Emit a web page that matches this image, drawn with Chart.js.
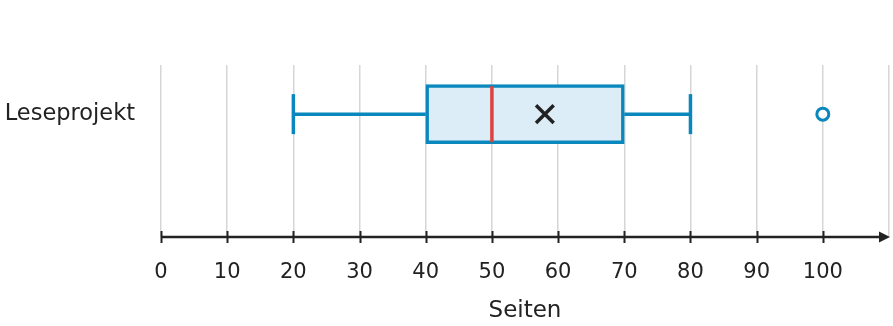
<!DOCTYPE html>
<html>
<head>
<meta charset="utf-8">
<script src="https://cdn.jsdelivr.net/npm/chart.js@4"></script>
<style>
  html, body { margin: 0; padding: 0; background: #fff; }
  #wrap { width: 893px; height: 326px; }
</style>
</head>
<body>
<div id="wrap"><canvas id="chart"></canvas></div>
<script>
// box plot values (Seiten)
const categories = ["Leseprojekt"];
const whiskerLow = [20];
const quartile1 = [40];
const median = [50];
const mean = [58];
const quartile3 = [70];
const whiskerHigh = [80];
const outliers = [[100]];
const axisMin = 0;
const axisMax = 110;
const axisStep = 10;
const axisTitle = "Seiten";

const BLUE = "#0a87bd";
const DARK = "#222222";

Chart.defaults.font.family = "'DejaVu Sans', sans-serif";
Chart.defaults.color = DARK;

const rows = categories.map((c, i) => i);

// tick marks crossing the axis line + arrow head
const axisPlugin = {
  id: "axisArrow",
  afterDraw(chart) {
    const { ctx, chartArea } = chart;
    const xs = chart.scales.x;
    const y = chartArea.bottom;
    ctx.save();
    ctx.strokeStyle = DARK;
    ctx.lineWidth = 2;
    for (let v = axisMin; v < axisMax; v += axisStep) {
      const px = Math.round(xs.getPixelForValue(v)) + 0.5;
      ctx.beginPath();
      ctx.moveTo(px, y - 6);
      ctx.lineTo(px, y + 6);
      ctx.stroke();
    }
    ctx.lineWidth = 2.5;
    ctx.beginPath();
    ctx.moveTo(xs.getPixelForValue(axisMin), y);
    ctx.lineTo(chartArea.right - 4, y);
    ctx.stroke();
    ctx.fillStyle = DARK;
    ctx.beginPath();
    ctx.moveTo(chartArea.right + 1, y);
    ctx.lineTo(chartArea.right - 10, y - 5.5);
    ctx.lineTo(chartArea.right - 10, y + 5.5);
    ctx.closePath();
    ctx.fill();
    ctx.restore();
  }
};

const whiskerData = rows.map(i => [
  { x: whiskerLow[i], y: i }, { x: quartile1[i], y: i }, { x: null, y: i },
  { x: quartile3[i], y: i }, { x: whiskerHigh[i], y: i }
]).flat();

new Chart(document.getElementById("chart"), {
  type: "bar",
  data: {
    datasets: [
      {
        type: "line",
        data: whiskerData,
        borderColor: BLUE,
        borderWidth: 3.5,
        pointRadius: 0,
        spanGaps: false,
        order: 5,
      },
      {
        type: "scatter",
        data: rows.map(i => ({ x: whiskerLow[i], y: i }))
          .concat(rows.map(i => ({ x: whiskerHigh[i], y: i }))),
        pointStyle: "line",
        rotation: 90,
        radius: 20,
        borderColor: BLUE,
        borderWidth: 3.5,
        order: 4,
      },
      {
        data: rows.map(i => ({ x: [quartile1[i], quartile3[i]], y: i })),
        backgroundColor: "#dcedf8",
        borderColor: BLUE,
        borderWidth: 3.5,
        borderSkipped: false,
        barThickness: 59,
        order: 3,
      },
      {
        type: "scatter",
        data: rows.map(i => ({ x: median[i], y: i })),
        pointStyle: "line",
        rotation: 90,
        radius: 28,
        borderColor: "#d9453f",
        borderWidth: 3.5,
        order: 2,
      },
      {
        type: "scatter",
        data: rows.map(i => ({ x: mean[i], y: i })),
        pointStyle: "crossRot",
        radius: 12.5,
        borderColor: DARK,
        borderWidth: 3.5,
        order: 1,
      },
      {
        type: "scatter",
        data: rows.map(i => outliers[i].map(v => ({ x: v, y: i }))).flat(),
        pointStyle: "circle",
        radius: 6,
        backgroundColor: "#ffffff",
        borderColor: BLUE,
        borderWidth: 3,
        order: 0,
      },
    ],
  },
  options: {
    indexAxis: "y",
    responsive: true,
    maintainAspectRatio: false,
    animation: false,
    events: [],
    layout: { autoPadding: false, padding: { top: 65, right: 4, left: 0, bottom: 0 } },
    plugins: {
      legend: { display: false },
      tooltip: { enabled: false },
    },
    scales: {
      x: {
        type: "linear",
        min: axisMin,
        max: axisMax,
        afterFit: (s) => {
          s.height = 89;
          s.paddingLeft = 0;
          s.paddingRight = 0;
        },
        afterBuildTicks: (s) => {
          const t = [];
          for (let v = axisMin; v <= axisMax; v += axisStep) t.push({ value: v });
          s.ticks = t;
        },
        ticks: {
          callback: (v) => (v < axisMax ? String(v) : ""),
          font: { size: 21 },
          color: DARK,
          padding: 23,
          maxRotation: 0,
        },
        grid: {
          color: "#d6d6d6",
          lineWidth: 1.5,
          drawTicks: false,
        },
        border: { display: false },
        title: {
          display: true,
          text: axisTitle,
          font: { size: 23 },
          color: DARK,
          padding: { top: 0, bottom: 1 },
        },
      },
      y: {
        type: "linear",
        offset: false,
        bounds: "data",
        min: -1.25,
        max: 0.5,
        afterFit: (s) => {
          s.width = 161;
          s.paddingTop = 0;
          s.paddingBottom = 0;
        },
        afterBuildTicks: (s) => { s.ticks = rows.map(i => ({ value: i })); },
        ticks: {
          callback: (v) => categories[v] ?? "",
          font: { size: 22.5 },
          color: DARK,
          padding: 18,
        },
        grid: { display: false },
        border: { display: false },
      },
    },
  },
  plugins: [axisPlugin],
});
</script>
</body>
</html>
